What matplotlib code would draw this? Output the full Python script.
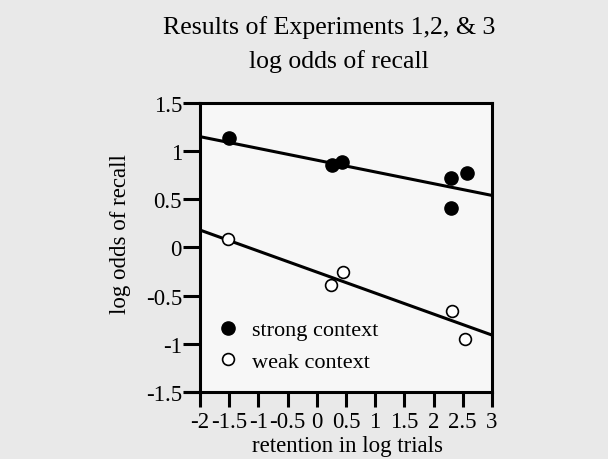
import numpy as np
import matplotlib.pyplot as plt

# log odds of recall vs retention (log trials)
strong_x = [-1.5, 0.26, 0.43, 2.3, 2.57, 2.3]
strong_y = [1.14, 0.86, 0.89, 0.72, 0.77, 0.41]
weak_x = [-1.52, 0.25, 0.45, 2.32, 2.54]
weak_y = [0.09, -0.39, -0.26, -0.66, -0.95]

# fitted lines, endpoints at x = -2 and x = 3
fit_x = [-2, 3]
strong_fit = [1.15, 0.54]
weak_fit = [0.18, -0.91]

x_ticks = [-2, -1.5, -1, -0.5, 0, 0.5, 1, 1.5, 2, 2.5, 3]
x_tick_labels = ["-2", "-1.5", "-1", "-0.5", "0", "0.5", "1", "1.5", "2", "2.5", "3"]
y_ticks = [-1.5, -1, -0.5, 0, 0.5, 1, 1.5]
y_tick_labels = ["-1.5", "-1", "-0.5", "0", "0.5", "1", "1.5"]

plt.rcParams['font.family'] = ['Liberation Serif', 'DejaVu Serif']

fig = plt.figure(figsize=(6.08, 4.60), dpi=100, facecolor='#e9e9e9')
ax = fig.add_axes([0.329, 0.146, 0.48, 0.628])
ax.set_facecolor('#f7f7f7')

ax.plot(fit_x, strong_fit, color='black', linewidth=2.2, solid_capstyle='butt')
ax.plot(fit_x, weak_fit, color='black', linewidth=2.2, solid_capstyle='butt')

ax.plot(strong_x, strong_y, linestyle='none', marker='o', markersize=9.5,
        markerfacecolor='black', markeredgecolor='black', label='strong context')
ax.plot(weak_x, weak_y, linestyle='none', marker='o', markersize=8.5,
        markerfacecolor='white', markeredgecolor='black', markeredgewidth=1.2,
        label='weak context')

ax.set_xlim(-2, 3)
ax.set_ylim(-1.5, 1.5)
ax.set_xticks(x_ticks)
ax.set_xticklabels(x_tick_labels)
ax.set_yticks(y_ticks)
ax.set_yticklabels(y_tick_labels)

for side in ['top', 'bottom', 'left', 'right']:
    ax.spines[side].set_linewidth(2.2)
# the scanned axis line runs a little past the left spine
ax.plot([-2.25, -2], [-1.5, -1.5], color='black', linewidth=2.2, clip_on=False)

ax.tick_params(axis='x', direction='out', length=11, width=2.2, pad=3, labelsize=16.5)
ax.tick_params(axis='y', direction='out', length=12, width=2.2, pad=1, labelsize=16.5)

ax.set_xlabel("retention in log trials", fontsize=16.5)
ax.set_ylabel("log odds of recall", fontsize=16.5)
ax.xaxis.set_label_coords(0.507, -0.148)
ax.yaxis.set_label_coords(-0.237, 0.548)

leg = ax.legend(loc='center left', bbox_to_anchor=(0.058, 0.159), frameon=False,
                fontsize=16, handletextpad=0.58, labelspacing=0.5,
                handlelength=1.0, borderaxespad=0, borderpad=0)

fig.text(0.541, 0.94, "Results of Experiments 1,2, & 3", ha='center', va='center', fontsize=18.6)
fig.text(0.558, 0.867, "log odds of recall", ha='center', va='center', fontsize=18.5)

fig.savefig("out.png", dpi=100, facecolor=fig.get_facecolor())
